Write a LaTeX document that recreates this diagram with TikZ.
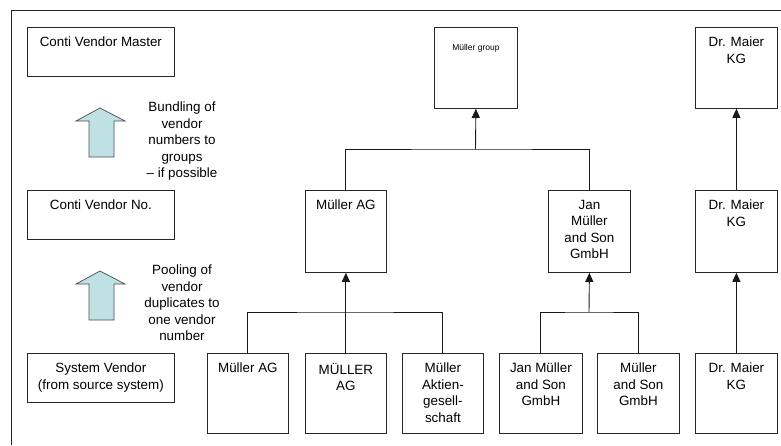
\documentclass[tikz,border=0pt]{standalone}
\usepackage{fontspec}
\setmainfont{Liberation Sans}
\usetikzlibrary{arrows.meta}
\definecolor{arrowcyan}{HTML}{BFE1E4}
\begin{document}
\begin{tikzpicture}[x=1pt,y=-1pt,
  box/.style={draw=black!85, line width=0.8pt, inner sep=0pt, anchor=north west},
  txt/.style={anchor=north, inner sep=0pt, align=center, font=\fontsize{13.4}{16.5}\selectfont, yshift=-10pt},
  note/.style={anchor=north, inner sep=0pt, align=center, font=\fontsize{13.4}{16.5}\selectfont},
  conn/.style={draw=black!90, line width=0.9pt},
  arr/.style={conn, -{Triangle[length=9pt,width=8pt]}},
  blockarrow/.style={draw=black!70, fill=arrowcyan, line width=0.7pt}]
\useasboundingbox (0,0) rectangle (781,445);
% frame
\draw[line width=0.8pt, black!85] (11,445) -- (11,10) -- (781,10);

% level boxes (left)
\node[box, minimum width=147pt, minimum height=49pt] (cvm) at (27,27) {};
\node[txt] (cvmT) at (cvm.north) {Conti Vendor Master};
\node[box, minimum width=147pt, minimum height=49pt] (cvn) at (27,190) {};
\node[txt] (cvnT) at (cvn.north) {Conti Vendor No.};
\node[box, minimum width=147pt, minimum height=49pt] (sv) at (27,353) {};
\node[txt] (svT) at (sv.north) {System Vendor\\(from source system)};

% block arrows
\draw[blockarrow] (100,108) -- (125,121) -- (114,121) -- (114,157) -- (89,157) -- (89,121) -- (76,121) -- cycle;
\draw[blockarrow] (100,271) -- (125,284) -- (114,284) -- (114,320) -- (89,320) -- (89,284) -- (76,284) -- cycle;
\node[note] (bund) at (182,102) {Bundling of\\vendor\\numbers to\\groups\\– if possible};
\node[note] (pool) at (182,265) {Pooling of\\vendor\\duplicates to\\one vendor\\number};

% top level
\node[box, minimum width=83pt, minimum height=81pt] (grp) at (434,27) {};
\node[anchor=north, inner sep=0pt, font=\fontsize{8.5}{10}\selectfont, yshift=-17pt] (grpT) at (grp.north) {Müller group};
\node[box, minimum width=82pt, minimum height=81pt] (dm3) at (695,27) {};
\node[txt] (dm3T) at (dm3.north) {Dr. Maier\\KG};

% middle level
\node[box, minimum width=81pt, minimum height=82pt] (mag2) at (305,190) {};
\node[txt] (mag2T) at (mag2.north) {Müller AG};
\node[box, minimum width=82pt, minimum height=82pt] (jan2) at (548,190) {};
\node[txt] (jan2T) at (jan2.north) {Jan\\Müller\\and Son\\GmbH};
\node[box, minimum width=82pt, minimum height=82pt] (dm2) at (695,190) {};
\node[txt] (dm2T) at (dm2.north) {Dr. Maier\\KG};

% bottom level
\node[box, minimum width=81pt, minimum height=80pt] (mag1) at (207,353) {};
\node[txt] (mag1T) at (mag1.north) {Müller AG};
\node[box, minimum width=81pt, minimum height=80pt] (mAG1) at (305,353) {};
\node[txt] (mAG1T) at (mAG1.north) {MÜLLER\\AG};
\node[box, minimum width=81pt, minimum height=80pt] (mak1) at (402,353) {};
\node[txt] (mak1T) at (mak1.north) {Müller\\Aktien-\\gesell-\\schaft};
\node[box, minimum width=83pt, minimum height=80pt] (jan1) at (499,353) {};
\node[txt] (jan1T) at (jan1.north) {Jan Müller\\and Son\\GmbH};
\node[box, minimum width=82pt, minimum height=80pt] (mson1) at (597,353) {};
\node[txt] (mson1T) at (mson1.north) {Müller\\and Son\\GmbH};
\node[box, minimum width=82pt, minimum height=80pt] (dm1) at (695,353) {};
\node[txt] (dm1T) at (dm1.north) {Dr. Maier\\KG};

% connectors
\coordinate (jm1) at (345.5,312);
\draw[conn] (mag1.north) |- (jm1) -| (mak1.north);
\draw[arr] (mAG1.north) -- (mag2.south);
\coordinate (jj1) at (589,312);
\draw[conn] (jan1.north) |- (jj1) -| (mson1.north);
\draw[arr] (jj1) -- (jan2.south);
\coordinate (gm) at (475.5,149);
\draw[conn] (mag2.north) |- (gm) -| (jan2.north);
\draw[arr] (gm) -- (grp.south);
\draw[arr] (dm1.north) -- (dm2.south);
\draw[arr] (dm2.north) -- (dm3.south);
\end{tikzpicture}
\end{document}
